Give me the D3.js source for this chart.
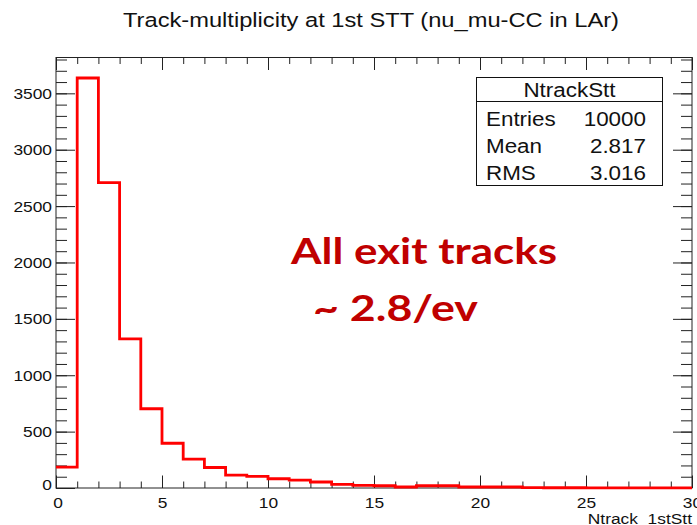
<!DOCTYPE html>
<html>
<head>
<meta charset="utf-8">
<script src="https://cdn.jsdelivr.net/npm/d3@7"></script>
<style>
  html, body { margin: 0; padding: 0; background: #fff; }
  svg { display: block; font-family: "Liberation Sans", Arial, sans-serif; }
</style>
</head>
<body>
<svg id="chart" width="697" height="525"></svg>
<script>
// Histogram of the track multiplicity, one bin per integer count
const binEdges = d3.range(0, 31);
const counts = [185, 3636, 2709, 1322, 703, 397, 256, 182, 115, 103,
                82, 70, 53, 33, 24, 20, 9, 20, 20, 9,
                9, 9, 3, 2, 2, 1, 1, 1, 1, 1];
const xTicks = [0, 5, 10, 15, 20, 25, 30];
const yTicks = [0, 500, 1000, 1500, 2000, 2500, 3000, 3500];
const statLabels = ["Entries", "Mean", "RMS"];
const statValues = ["10000", "2.817", "3.016"];
const histName = "NtrackStt";
const titleText = "Track-multiplicity at 1st STT (nu_mu-CC in LAr)";
const xTitle = "Ntrack_1stStt";
const noteLines = ["All exit tracks", "~ 2.8/ev"];

const svg = d3.select("#chart");
const frame = { left: 56, right: 692, top: 57.5, bottom: 488 };
const STRETCH = 1.12; // glyphs are drawn slightly wide

const x = d3.scaleLinear().domain([0, 30]).range([frame.left, frame.right]);
const y = d3.scaleLinear().domain([0, d3.max(counts) * 1.05]).range([frame.bottom, frame.top]);

const axisColor = "#222";

// widen a text selection horizontally
function widen(sel, factor) {
  sel.each(function () {
    const len = this.getComputedTextLength();
    d3.select(this).attr("textLength", len * factor).attr("lengthAdjust", "spacingAndGlyphs");
  });
}

// frame
svg.append("rect")
  .attr("x", frame.left).attr("y", frame.top)
  .attr("width", frame.right - frame.left).attr("height", frame.bottom - frame.top)
  .attr("fill", "none").attr("stroke", axisColor).attr("stroke-width", 1);

const xMinor = d3.range(0, 31, 1);
const yMinor = d3.range(0, y.domain()[1], 100);
const xMajLen = 12.5, xMinLen = 6.5, yMajLen = 19, yMinLen = 11;

function styleAxis(g) {
  g.select(".domain").remove();
  g.selectAll(".tick line").attr("stroke", axisColor).attr("stroke-width", 1);
}

// bottom axis (major with labels, minor without)
const gxb = svg.append("g").attr("transform", `translate(0,${frame.bottom})`)
  .call(d3.axisBottom(x).tickValues(xTicks).tickSize(-xMajLen).tickPadding(9).tickFormat(d3.format("d")));
styleAxis(gxb);
gxb.selectAll("text").attr("font-size", 15.5).attr("fill", "#111").attr("font-family", "Liberation Sans, Arial, sans-serif");
svg.append("g").attr("transform", `translate(0,${frame.bottom})`)
  .call(d3.axisBottom(x).tickValues(xMinor).tickSize(-xMinLen).tickFormat(""))
  .call(styleAxis);
// top axis ticks
svg.append("g").attr("transform", `translate(0,${frame.top})`)
  .call(d3.axisTop(x).tickValues(xTicks).tickSize(-xMajLen).tickFormat(""))
  .call(styleAxis);
svg.append("g").attr("transform", `translate(0,${frame.top})`)
  .call(d3.axisTop(x).tickValues(xMinor).tickSize(-xMinLen).tickFormat(""))
  .call(styleAxis);

// left axis
const gyl = svg.append("g").attr("transform", `translate(${frame.left},0)`)
  .call(d3.axisLeft(y).tickValues(yTicks).tickSize(-yMajLen).tickPadding(4).tickFormat(d3.format("d")));
styleAxis(gyl);
gyl.selectAll("text").attr("font-size", 15.5).attr("fill", "#111").attr("font-family", "Liberation Sans, Arial, sans-serif");
svg.append("g").attr("transform", `translate(${frame.left},0)`)
  .call(d3.axisLeft(y).tickValues(yMinor).tickSize(-yMinLen).tickFormat(""))
  .call(styleAxis);
// right axis ticks
svg.append("g").attr("transform", `translate(${frame.right},0)`)
  .call(d3.axisRight(y).tickValues(yTicks).tickSize(-yMajLen).tickFormat(""))
  .call(styleAxis);
svg.append("g").attr("transform", `translate(${frame.right},0)`)
  .call(d3.axisRight(y).tickValues(yMinor).tickSize(-yMinLen).tickFormat(""))
  .call(styleAxis);

// nudge the zero labels like ROOT does
gyl.selectAll(".tick").filter(d => d === 0).select("text").attr("dy", "0.1em");
gxb.selectAll(".tick").filter(d => d === 0).select("text").attr("dx", "0.1em");
widen(gxb.selectAll("text"), STRETCH);
widen(gyl.selectAll("text"), STRETCH);

// histogram outline (step line)
const pts = [];
counts.forEach((c, i) => {
  pts.push([binEdges[i], c]);
  pts.push([binEdges[i + 1], c]);
});
svg.append("path")
  .datum(pts)
  .attr("fill", "none")
  .attr("stroke", "#ff0000")
  .attr("stroke-width", 2.8)
  .attr("stroke-linejoin", "miter")
  .attr("d", d3.line().x(d => x(d[0])).y(d => y(d[1])));

// title
svg.append("text")
  .attr("x", 371).attr("y", 27)
  .attr("text-anchor", "middle")
  .attr("font-size", 20.5).attr("fill", "#111")
  .attr("textLength", 496).attr("lengthAdjust", "spacingAndGlyphs")
  .text(titleText);

// x-axis title (right aligned)
const xt = svg.append("text")
  .attr("x", frame.right).attr("y", 524)
  .attr("text-anchor", "end")
  .attr("font-size", 15.5).attr("fill", "#111")
  .text(xTitle);
widen(xt, STRETCH);

// statistics box
const box = { x0: 476.5, x1: 662.5, y0: 77.5, y1: 185.5, header: 101.5 };
svg.append("rect")
  .attr("x", box.x0).attr("y", box.y0)
  .attr("width", box.x1 - box.x0).attr("height", box.y1 - box.y0)
  .attr("fill", "#fff").attr("stroke", "#111").attr("stroke-width", 1);
svg.append("line")
  .attr("x1", box.x0).attr("x2", box.x1).attr("y1", box.header).attr("y2", box.header)
  .attr("stroke", "#111");
const hdr = svg.append("text")
  .attr("x", (box.x0 + box.x1) / 2).attr("y", 97)
  .attr("text-anchor", "middle").attr("font-size", 20).attr("fill", "#111")
  .text(histName);
widen(hdr, STRETCH);
const rowY = d3.scalePoint().domain(statLabels).range([126, 180]);
const lbls = svg.selectAll(".slab").data(statLabels).join("text")
  .attr("x", 486).attr("y", d => rowY(d))
  .attr("font-size", 20).attr("fill", "#111")
  .text(d => d);
widen(lbls, STRETCH);
const vals = svg.selectAll(".sval").data(statValues).join("text")
  .attr("x", 646).attr("y", (d, i) => rowY(statLabels[i]))
  .attr("text-anchor", "end")
  .attr("font-size", 20).attr("fill", "#111")
  .text(d => d);
widen(vals, STRETCH);

// annotation
const note = svg.append("g").attr("font-family", "Lato, 'Open Sans', sans-serif")
  .attr("font-weight", "bold").attr("fill", "#c00000");
note.append("text").attr("x", 291).attr("y", 264).attr("font-size", 37)
  .attr("textLength", 266).attr("lengthAdjust", "spacingAndGlyphs").text(noteLines[0]);
note.append("text").attr("x", 313).attr("y", 321).attr("font-size", 37)
  .attr("textLength", 165).attr("lengthAdjust", "spacingAndGlyphs").text(noteLines[1]);
</script>
</body>
</html>
